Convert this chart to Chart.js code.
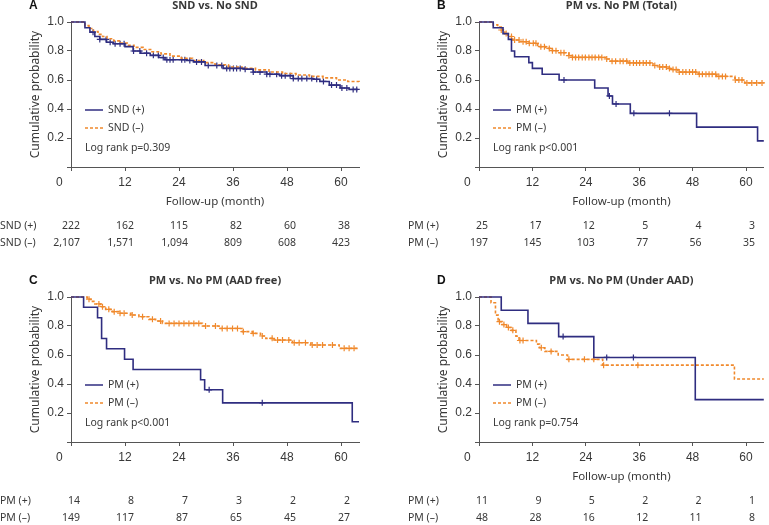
<!DOCTYPE html>
<html>
<head>
<meta charset="utf-8">
<script src="https://cdn.jsdelivr.net/npm/chart.js@4.4.1/dist/chart.umd.min.js"></script>
<style>
body{margin:0;background:#fff;width:769px;height:525px;position:relative;overflow:hidden}
canvas{position:absolute}
</style>
</head>
<body>
<canvas id="chartA" width="384" height="255" style="left:0;top:0"></canvas>
<canvas id="chartB" width="385" height="255" style="left:384px;top:0"></canvas>
<canvas id="chartC" width="384" height="250" style="left:0;top:275px"></canvas>
<canvas id="chartD" width="385" height="250" style="left:384px;top:275px"></canvas>
<script>
var NAVY = '#2f2d80';
var ORANGE = '#f0892c';
var TEXT = '#383838';

var riskMonths = [0, 12, 24, 36, 48, 60];

// A - SND vs. No SND
var aPosTime = [0, 3.1, 4.2, 5.3, 6.4, 7.9, 9.4, 12.0, 13.8, 15.5, 17.6, 19.5, 20.9, 25.7, 27.2, 29.8, 33.8, 38.5, 40.5, 43.5, 46.4, 49.4, 53.8, 55.3, 57.4, 59.8, 61.8, 63.8];
var aPosSurv = [1.0, 0.96, 0.93, 0.90, 0.88, 0.86, 0.85, 0.83, 0.80, 0.785, 0.77, 0.755, 0.74, 0.735, 0.725, 0.70, 0.68, 0.675, 0.655, 0.64, 0.63, 0.61, 0.605, 0.59, 0.565, 0.545, 0.535, 0.535];
var aPosCens = [4.9, 6.4, 7.8, 8.7, 9.8, 10.9, 11.8, 13.9, 15.3, 16.8, 18.3, 19.4, 20.5, 21.3, 22.0, 22.7, 24.6, 25.3, 26.4, 27.9, 29.0, 30.5, 32.4, 33.5, 34.6, 35.3, 36.1, 36.8, 37.6, 38.7, 40.5, 42.0, 43.5, 44.2, 45.7, 46.8, 47.6, 48.7, 49.4, 50.5, 51.3, 52.4, 53.5, 54.6, 56.1, 57.9, 59.0, 60.2, 61.3, 62.7, 63.5];
var aNegTime = [0, 3.1, 4.0, 5.0, 6.0, 7.0, 8.0, 9.5, 11.0, 12.5, 14.0, 16.0, 18.0, 20.0, 22.0, 24.5, 27.0, 29.5, 32.0, 35.0, 38.0, 41.0, 44.0, 47.0, 50.0, 53.0, 56.0, 59.0, 61.5, 64];
var aNegSurv = [1.0, 0.975, 0.955, 0.935, 0.915, 0.90, 0.885, 0.87, 0.855, 0.84, 0.825, 0.81, 0.795, 0.78, 0.765, 0.75, 0.735, 0.72, 0.705, 0.69, 0.68, 0.67, 0.655, 0.645, 0.635, 0.625, 0.615, 0.60, 0.59, 0.585];
var aNegCens = [];
var aPosRisk = ['222', '162', '115', '82', '60', '38'];
var aNegRisk = ['2,107', '1,571', '1,094', '809', '608', '423'];

// B - PM vs. No PM (Total)
var bPosTime = [0, 3.2, 5.4, 6.6, 7.3, 8.0, 11.2, 12.0, 14.2, 18.0, 26.0, 29.0, 30.0, 34.0, 48.9, 62.6, 64];
var bPosSurv = [1.0, 0.96, 0.92, 0.88, 0.80, 0.76, 0.72, 0.68, 0.64, 0.60, 0.545, 0.49, 0.435, 0.37, 0.275, 0.18, 0.18];
var bPosCens = [19.1, 29.3, 30.8, 34.8, 42.8];
var bNegTime = [0, 3.2, 4.2, 5.0, 5.8, 6.5, 7.6, 9.1, 11.0, 13.2, 15.0, 16.5, 18.0, 20.2, 21.0, 28.4, 29.5, 33.6, 39.1, 40.2, 42.4, 43.2, 44.7, 49.3, 53.4, 57.5, 59.7, 64];
var bNegSurv = [1.0, 0.98, 0.965, 0.945, 0.92, 0.90, 0.876, 0.864, 0.853, 0.83, 0.818, 0.802, 0.788, 0.768, 0.756, 0.745, 0.73, 0.718, 0.70, 0.69, 0.68, 0.672, 0.655, 0.64, 0.625, 0.60, 0.58, 0.58];
var bNegCens = [5.0, 6.1, 7.3, 8.0, 9.0, 9.9, 10.6, 11.3, 12.2, 12.8, 13.9, 14.7, 15.8, 16.5, 17.3, 18.4, 19.1, 20.2, 21.0, 21.7, 22.4, 23.2, 23.9, 24.7, 25.4, 26.1, 26.9, 27.6, 28.7, 29.9, 30.7, 31.7, 32.4, 33.2, 33.9, 34.7, 35.4, 36.1, 36.9, 37.6, 38.4, 39.5, 40.6, 41.3, 42.1, 42.8, 43.6, 44.3, 45.0, 45.8, 46.5, 47.3, 48.0, 48.7, 49.5, 50.2, 51.0, 51.7, 52.4, 53.2, 53.9, 54.7, 55.4, 57.6, 58.4, 59.1, 60.2, 61.3, 62.4, 63.6];
var bPosRisk = ['25', '17', '12', '5', '4', '3'];
var bNegRisk = ['197', '145', '103', '77', '56', '35'];

// C - PM vs. No PM (AAD free)
var cPosTime = [0, 2.8, 5.9, 6.8, 7.9, 11.9, 13.8, 28.8, 29.7, 33.7, 62.5, 64];
var cPosSurv = [1.0, 0.929, 0.857, 0.714, 0.643, 0.571, 0.50, 0.429, 0.36, 0.27, 0.14, 0.14];
var cPosCens = [30.7, 42.5];
var cNegTime = [0, 3.6, 4.4, 5.3, 6.6, 7.7, 9.2, 10.7, 13.3, 15.1, 17.3, 18.8, 20.3, 29.2, 32.9, 38.1, 40.3, 42.1, 43.3, 45.1, 49.2, 53.3, 59.6, 64];
var cNegSurv = [1.0, 0.985, 0.97, 0.952, 0.933, 0.915, 0.899, 0.888, 0.876, 0.864, 0.846, 0.834, 0.818, 0.80, 0.783, 0.761, 0.749, 0.731, 0.715, 0.703, 0.685, 0.669, 0.646, 0.646];
var cNegCens = [4.0, 6.2, 7.0, 8.4, 9.6, 10.9, 11.8, 13.6, 15.9, 18.1, 19.9, 21.8, 22.9, 24.0, 25.1, 26.2, 27.3, 28.4, 29.9, 32.1, 33.6, 34.7, 35.9, 37.0, 38.3, 40.5, 42.5, 44.7, 45.9, 47.0, 48.4, 49.6, 50.7, 52.1, 53.6, 54.7, 55.9, 58.1, 60.7, 61.8, 62.9];
var cPosRisk = ['14', '8', '7', '3', '2', '2'];
var cNegRisk = ['149', '117', '87', '65', '45', '27'];

// D - PM vs. No PM (Under AAD)
var dPosTime = [0, 5.0, 11.0, 17.9, 25.8, 48.6, 64];
var dPosSurv = [1.0, 0.909, 0.818, 0.727, 0.583, 0.292, 0.292];
var dPosCens = [18.9, 28.7, 34.7];
var dNegTime = [0, 2.7, 3.7, 4.3, 5.2, 6.2, 7.3, 8.3, 9.0, 12.9, 13.6, 14.8, 17.8, 19.9, 27.8, 57.4, 64];
var dNegSurv = [1.0, 0.96, 0.875, 0.83, 0.81, 0.79, 0.77, 0.73, 0.70, 0.675, 0.65, 0.625, 0.60, 0.57, 0.53, 0.435, 0.435];
var dNegCens = [4.6, 5.6, 6.6, 7.6, 9.2, 9.9, 14.0, 16.2, 20.2, 23.7, 25.8, 28.0, 35.7];
var dPosRisk = ['11', '9', '5', '2', '2', '1'];
var dNegRisk = ['48', '28', '16', '12', '11', '8'];

function steps(times, surv) {
    return times.map(function (t, i) { return {x: t, y: surv[i]}; });
}

// censor marks sit on the curve value at that time
function censorPts(times, surv, cens) {
    return cens.map(function (c) {
        var y = surv[0];
        for (var i = 0; i < times.length; i++) {
            if (times[i] <= c) y = surv[i];
        }
        return {x: c, y: y};
    });
}

function makePanel(id, p) {
    var canvas = document.getElementById(id);
    var H = canvas.height;
    var W = canvas.width;
    var leftPad = p.right ? 48 : 24;
    var rightPad = W - (leftPad + 47 + 288);

    var extras = {
        id: 'extras',
        afterDraw: function (chart) {
            var ctx = chart.ctx;
            var a = chart.chartArea;
            var xs = chart.scales.x;
            ctx.save();
            ctx.fillStyle = TEXT;
            ctx.textBaseline = 'middle';

            // panel letter + title
            ctx.font = 'bold 12px "Liberation Sans", Arial, sans-serif';
            ctx.textAlign = 'left';
            ctx.fillStyle = '#111';
            ctx.fillText(p.letter, a.left - 42, 6);
            ctx.font = 'bold 11px "Noto Sans", sans-serif';
            ctx.textAlign = 'center';
            ctx.fillStyle = TEXT;
            ctx.fillText(p.title, (a.left + a.right) / 2, 6);

            // x axis title
            if (p.xTitle) {
                ctx.font = '11.5px "Noto Sans", sans-serif';
                ctx.fillText(p.xTitle, (a.left + a.right) / 2, a.bottom + 35);
            }

            // legend inside the plot
            ctx.font = '10.5px "Noto Sans", sans-serif';
            ctx.textAlign = 'left';
            [0, 1].forEach(function (k) {
                var ds = chart.data.datasets[k];
                var y = a.top + 88 + k * 18;
                ctx.strokeStyle = ds.borderColor;
                ctx.lineWidth = 1.5;
                ctx.setLineDash(ds.borderDash || []);
                ctx.beginPath();
                ctx.moveTo(a.left + 14, y);
                ctx.lineTo(a.left + 32, y);
                ctx.stroke();
                ctx.fillText(ds.label, a.left + 37, y);
            });
            ctx.setLineDash([]);
            ctx.fillText(p.logRank, a.left + 14, a.top + 126);

            // numbers at risk
            ctx.font = '10.5px "Noto Sans", sans-serif';
            [[p.posLabel, p.posRisk], [p.negLabel, p.negRisk]].forEach(function (row, r) {
                var y = a.bottom + 59 + r * 17;
                ctx.textAlign = 'left';
                ctx.fillText(row[0], a.left - 71, y);
                ctx.textAlign = 'right';
                row[1].forEach(function (v, i) {
                    ctx.fillText(v, xs.getPixelForValue(riskMonths[i]) + 9, y);
                });
            });
            ctx.restore();
        }
    };

    var axisColor = '#555';
    new Chart(canvas.getContext('2d'), {
        type: 'line',
        data: {
            datasets: [{
                label: p.posLabel,
                data: steps(p.posTime, p.posSurv),
                borderColor: NAVY,
                borderWidth: 1.6,
                stepped: true,
                pointRadius: 0,
                fill: false,
                clip: false
            }, {
                label: p.negLabel,
                data: steps(p.negTime, p.negSurv),
                borderColor: ORANGE,
                borderWidth: 1.6,
                borderDash: [3, 2],
                stepped: true,
                pointRadius: 0,
                fill: false,
                clip: false
            }, {
                label: 'cens+',
                data: censorPts(p.posTime, p.posSurv, p.posCens),
                showLine: false,
                pointStyle: 'cross',
                pointRadius: 3,
                borderColor: NAVY,
                borderWidth: 1.2,
                clip: false
            }, {
                label: 'cens-',
                data: censorPts(p.negTime, p.negSurv, p.negCens),
                showLine: false,
                pointStyle: 'cross',
                pointRadius: 3,
                borderColor: ORANGE,
                borderWidth: 1.2,
                clip: false
            }]
        },
        options: {
            responsive: false,
            animation: false,
            layout: {padding: {left: leftPad, right: rightPad, top: 22, bottom: 0}},
            plugins: {
                legend: {display: false},
                tooltip: {enabled: false}
            },
            scales: {
                x: {
                    type: 'linear',
                    min: 0,
                    max: 64,
                    border: {display: true, color: axisColor, width: 1},
                    grid: {drawOnChartArea: false, tickLength: 4, color: axisColor},
                    ticks: {
                        stepSize: 12,
                        includeBounds: false,
                        autoSkip: false,
                        maxRotation: 0,
                        padding: 4,
                        color: TEXT,
                        font: {family: '"Liberation Sans", Arial, sans-serif', size: 12},
                        callback: function (v) { return v === 0 ? '0       ' : String(v); }
                    },
                    afterFit: function (s) { s.height = H - 167; }
                },
                y: {
                    min: 0,
                    max: 1,
                    border: {display: true, color: axisColor, width: 1},
                    grid: {drawOnChartArea: false, tickLength: 4, color: axisColor},
                    ticks: {
                        stepSize: 0.2,
                        padding: 3,
                        color: TEXT,
                        font: {family: '"Liberation Sans", Arial, sans-serif', size: 12},
                        callback: function (v) { return v === 0 ? '' : v.toFixed(1); }
                    },
                    title: {
                        display: true,
                        text: 'Cumulative probability',
                        color: TEXT,
                        font: {family: '"Noto Sans", sans-serif', size: 12},
                        padding: {top: 4, bottom: 0}
                    },
                    afterFit: function (s) { s.width = 47; }
                }
            }
        },
        plugins: [extras]
    });
}

makePanel('chartA', {
    letter: 'A', title: 'SND vs. No SND', xTitle: 'Follow-up (month)', logRank: 'Log rank p=0.309',
    posLabel: 'SND (+)', negLabel: 'SND (\u2013)',
    posTime: aPosTime, posSurv: aPosSurv, posCens: aPosCens,
    negTime: aNegTime, negSurv: aNegSurv, negCens: aNegCens,
    posRisk: aPosRisk, negRisk: aNegRisk
});
makePanel('chartB', {
    right: true,
    letter: 'B', title: 'PM vs. No PM (Total)', xTitle: 'Follow-up (month)', logRank: 'Log rank p<0.001',
    posLabel: 'PM (+)', negLabel: 'PM (\u2013)',
    posTime: bPosTime, posSurv: bPosSurv, posCens: bPosCens,
    negTime: bNegTime, negSurv: bNegSurv, negCens: bNegCens,
    posRisk: bPosRisk, negRisk: bNegRisk
});
makePanel('chartC', {
    letter: 'C', title: 'PM vs. No PM (AAD free)', xTitle: '', logRank: 'Log rank p<0.001',
    posLabel: 'PM (+)', negLabel: 'PM (\u2013)',
    posTime: cPosTime, posSurv: cPosSurv, posCens: cPosCens,
    negTime: cNegTime, negSurv: cNegSurv, negCens: cNegCens,
    posRisk: cPosRisk, negRisk: cNegRisk
});
makePanel('chartD', {
    right: true,
    letter: 'D', title: 'PM vs. No PM (Under AAD)', xTitle: 'Follow-up (month)', logRank: 'Log rank p=0.754',
    posLabel: 'PM (+)', negLabel: 'PM (\u2013)',
    posTime: dPosTime, posSurv: dPosSurv, posCens: dPosCens,
    negTime: dNegTime, negSurv: dNegSurv, negCens: dNegCens,
    posRisk: dPosRisk, negRisk: dNegRisk
});
</script>
</body>
</html>
